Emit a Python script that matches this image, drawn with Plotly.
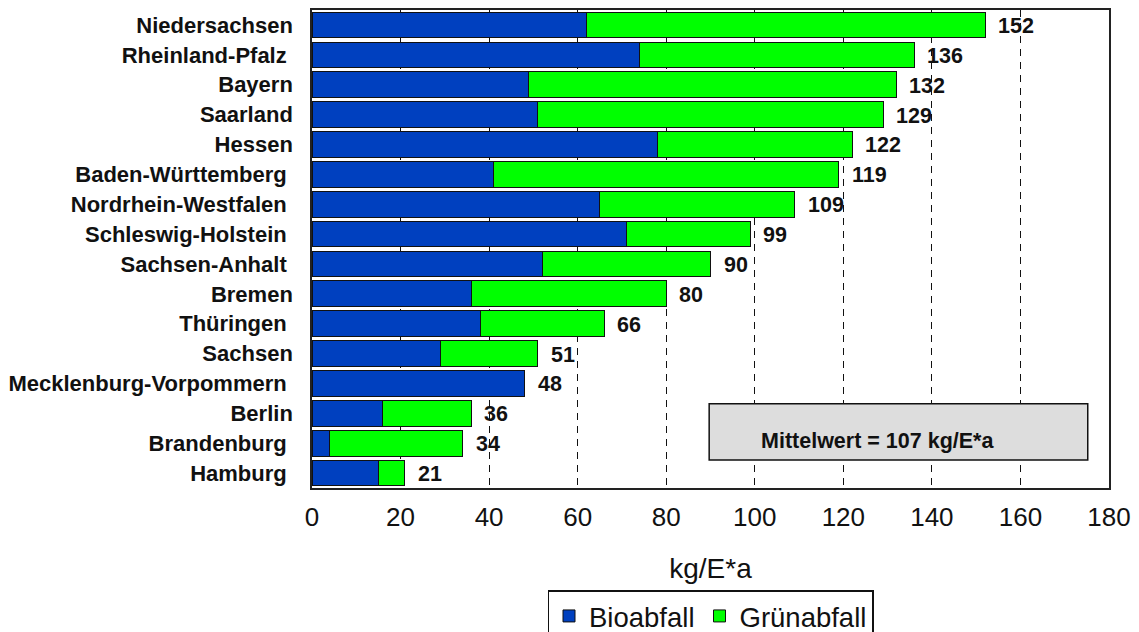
import plotly.graph_objects as go

states = ["Niedersachsen", "Rheinland-Pfalz ", "Bayern", "Saarland", "Hessen",
          "Baden-Württemberg ", "Nordrhein-Westfalen ", "Schleswig-Holstein ",
          "Sachsen-Anhalt ", "Bremen", "Thüringen ", "Sachsen",
          "Mecklenburg-Vorpommern ", "Berlin", "Brandenburg ", "Hamburg "]
bioabfall = [62, 74, 49, 51, 78, 41, 65, 71, 52, 36, 38, 29, 48, 16, 4, 15]
gruenabfall = [90, 62, 83, 78, 44, 78, 44, 28, 38, 44, 28, 22, 0, 20, 30, 6]
totals = [152, 136, 132, 129, 122, 119, 109, 99, 90, 80, 66, 51, 48, 36, 34, 21]
x_ticks = [0, 20, 40, 60, 80, 100, 120, 140, 160, 180]
mean_text = "Mittelwert = 107 kg/E*a"

FONT = "Liberation Sans, Arial, sans-serif"
BLUE = "#0040BF"
GREEN = "#00FF00"

fig = go.Figure()
fig.add_trace(go.Bar(
    y=states, x=bioabfall, orientation="h", name="Bioabfall",
    marker=dict(color=BLUE, line=dict(color="#111111", width=1)),
))
fig.add_trace(go.Bar(
    y=states, x=gruenabfall, orientation="h", name="Grünabfall",
    marker=dict(color=GREEN, line=dict(color="#111111", width=1)),
))

for s, t in zip(states, totals):
    fig.add_annotation(
        x=t, y=s, text="<b>%d</b>" % t, showarrow=False,
        xanchor="left", xshift=11, yshift=-1,
        font=dict(family=FONT, size=21.5, color="#111111"),
    )

# Mittelwert box
fig.add_shape(
    type="rect", xref="x", yref="paper",
    x0=89.7, x1=175.2, y0=0.0586, y1=0.176,
    fillcolor="#DDDDDD", line=dict(color="#111111", width=1.5),
    layer="above",
)
fig.add_annotation(
    x=127.8, y=0.098, xref="x", yref="paper", text="<b>" + mean_text + "</b>",
    showarrow=False, xanchor="center", yanchor="middle",
    font=dict(family=FONT, size=21.5, color="#111111"),
)

fig.update_layout(
    width=1131, height=624,
    margin=dict(l=304, r=30, t=2, b=144, autoexpand=False),
    barmode="stack", bargap=0.14,
    paper_bgcolor="white", plot_bgcolor="white",
    font=dict(family=FONT, color="#111111"),
    showlegend=True,
    legend=dict(
        orientation="h", x=0.5, xanchor="center", y=-0.2135, yanchor="top",
        bordercolor="#111111", borderwidth=1.5, bgcolor="white",
        font=dict(family=FONT, size=27.5, color="#111111"),
        traceorder="normal", itemwidth=30,
    ),
    xaxis=dict(
        range=[0, 180], tickvals=x_ticks, ticktext=[str(v) for v in x_ticks],
        showgrid=True, gridcolor="#111111", griddash="7px,6px", gridwidth=1,
        zeroline=False,
        showline=True, linecolor="#222222", linewidth=1.5, mirror=True,
        ticks="", ticklabelstandoff=5,
        tickfont=dict(family=FONT, size=26, color="#111111"),
        title=dict(text="kg/E*a", font=dict(family=FONT, size=28, color="#111111"), standoff=27),
    ),
    yaxis=dict(
        autorange="reversed", type="category",
        showline=True, linecolor="#222222", linewidth=1.5, mirror=True,
        showgrid=False, ticks="", ticklabelstandoff=13,
        tickfont=dict(family=FONT, size=22, color="#111111", weight="bold"),
    ),
)

fig.write_html("out.html")
